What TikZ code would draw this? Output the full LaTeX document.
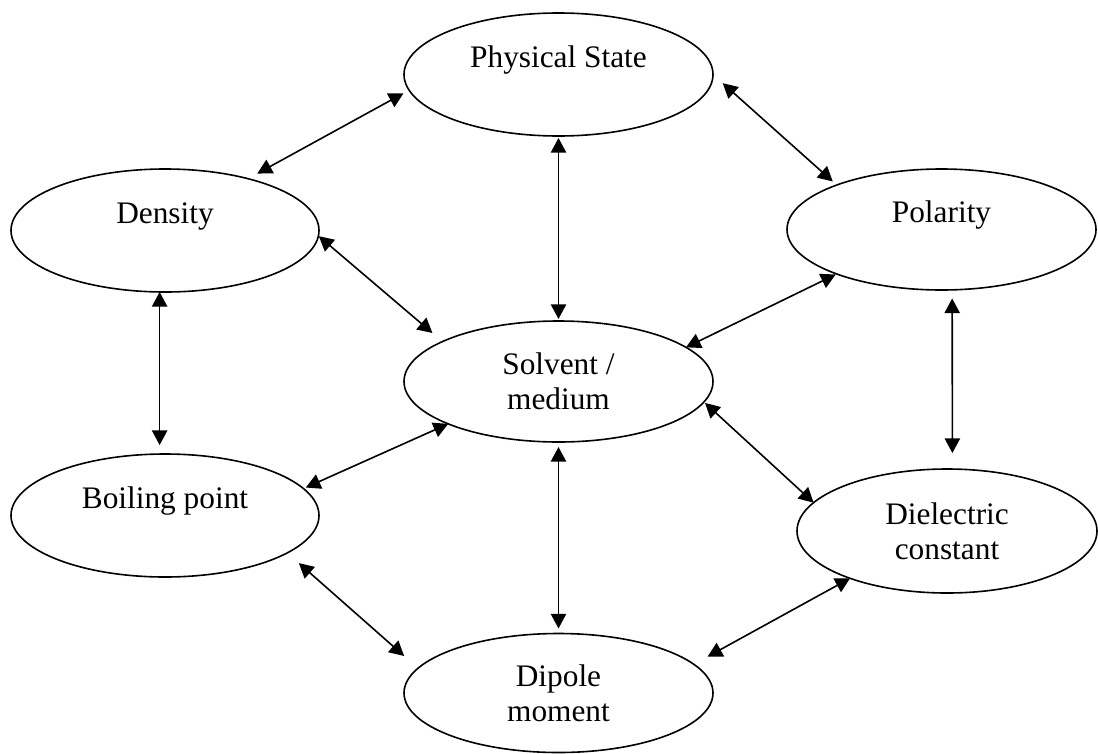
\documentclass[tikz,border=0pt]{standalone}
\usepackage{fontspec}
\setmainfont{Liberation Serif}
\usetikzlibrary{shapes.geometric,arrows.meta}
\begin{document}
\begin{tikzpicture}[x=0.75pt,y=-0.75pt,
  prop/.style={ellipse,draw,line width=1.2pt,inner sep=0pt,outer sep=0pt,
    font=\fontsize{23.5}{26.5}\selectfont},
  oneline/.style={text height=16pt,text depth=26pt},
  twoline/.style={align=center},
  link/.style={line width=1.2pt,
    {Triangle[length=11pt,width=11.5pt]}-{Triangle[length=11pt,width=11.5pt]}}]
\useasboundingbox (0,0) rectangle (1098,753);
\fill[white] (0,0) rectangle (1098,753);

% properties around the solvent
\node[prop,oneline,minimum width=231.75pt,minimum height=92.25pt] (ps)   at (558.5,74.5)  {Physical State};
\node[prop,oneline,minimum width=231pt,minimum height=92.25pt]    (dens) at (165,230.5)   {Density};
\node[prop,oneline,minimum width=231.75pt,minimum height=90.75pt] (pol)  at (941.5,229.5) {Polarity};
\node[prop,twoline,minimum width=231.75pt,minimum height=90.75pt] (solv) at (558.5,381.5) {Solvent /\\medium};
\node[prop,oneline,minimum width=231pt,minimum height=92.25pt]    (boil) at (165,515.5)   {Boiling point};
\node[prop,twoline,minimum width=225pt,minimum height=93pt]       (diel) at (947,531)     {Dielectric\\constant};
\node[prop,twoline,minimum width=231.75pt,minimum height=89.25pt] (dip)  at (558.5,693)   {Dipole\\moment};

% two-way links
\draw[link,shorten <=4.8pt,shorten >=8pt]     (ps.186.3)   -- (dens.32.1);
\draw[link,shorten <=9.75pt,shorten >=4pt]    (ps.0)       -- (pol.157);
\draw[link,shorten <=1.5pt,shorten >=1.5pt]   (ps.-90)     -- (solv.90);
\draw[link,shorten <=0.4pt,shorten >=9.9pt]   (dens.-2.1)  -- (solv.161.9);
\draw[link,shorten <=0pt,shorten >=6.75pt]    (dens.-95.6) -- (boil.95.6);
\draw[link,shorten <=0pt,shorten >=0.9pt]     (solv.15.6)  -- (pol.-157.95);
\draw[link,shorten <=6.45pt,shorten >=12pt]   (pol.-80.1)  -- (diel.85.4);
\draw[link,shorten <=1.1pt,shorten >=0pt]     (solv.-8.9)  -- (diel.168.2);
\draw[link,shorten <=0pt,shorten >=1.9pt]     (solv.-159.4) -- (boil.11.3);
\draw[link,shorten <=3.75pt,shorten >=3.75pt] (solv.-90)   -- (dip.90);
\draw[link,shorten <=11.55pt,shorten >=13.9pt] (boil.-17.6) -- (dip.170.5);
\draw[link,shorten <=0pt,shorten >=11.8pt]    (diel.-154.8) -- (dip.12.9);
\end{tikzpicture}
\end{document}
